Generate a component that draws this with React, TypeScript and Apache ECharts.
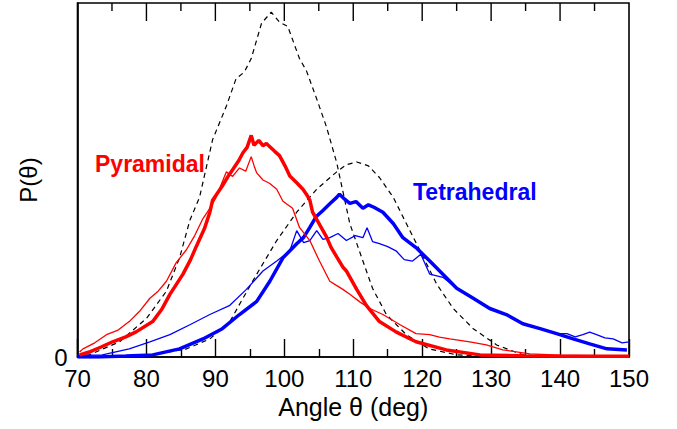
import React, { useEffect, useRef } from "react";
import * as echarts from "echarts";

// x: angle (deg), y: P(theta) in arbitrary units (0..100 = frame height)
const pyrIdealX = [70, 71.7, 76.1, 80, 82.9, 84.8, 86.3, 87.7, 89.6, 91.6, 93.0, 94.2, 95.2, 96.7, 98.1, 99.3, 100.5, 102.2, 103.2, 104.7, 106.1, 107.6, 109.5, 111.4, 112.8, 114.8, 117.7, 121, 125, 130, 150];
const pyrIdealY = [0, 0.6, 4.3, 10.9, 18.6, 28, 38.6, 45.1, 61.4, 70.9, 78.6, 80.5, 84.3, 94.3, 97.4, 94.6, 93.4, 84.3, 80.9, 72.9, 65.1, 54.9, 37.7, 27.1, 19.4, 12, 6.3, 2.3, 0.6, 0.2, 0];

const tetIdealX = [70, 80.9, 85.8, 89.2, 92.1, 94, 96, 98.9, 101.8, 104.7, 107.6, 109, 110.5, 112.2, 113.8, 115.8, 117.7, 119.7, 122.1, 124.5, 127.4, 130.8, 134.6, 140, 150];
const tetIdealY = [0, 0.6, 2.3, 5.1, 10, 16.6, 23.4, 32.9, 40.9, 47.4, 52.3, 54.3, 55.1, 54.0, 50.7, 45.1, 37.7, 30, 20.6, 13.7, 8, 3.4, 0.6, 0, 0];

const pyrThickX = [70.3, 71.7, 73.5, 75.1, 77, 78.5, 80.9, 82.2, 83.4, 85.3, 86.4, 87.2, 88.4, 89.2, 89.6, 91, 91.8, 92.5, 93.4, 94, 94.6, 95.2, 95.6, 96.3, 96.9, 97.4, 97.9, 98.6, 99.3, 100.1, 100.8, 101.8, 102.7, 103.2, 103.7, 104.1, 105.2, 106.1, 106.8, 107.6, 108.5, 109, 110.5, 111.9, 113.8, 116.2, 119.1, 123.5, 128.4, 135, 142, 150];
const pyrThickY = [0.6, 1.4, 2.9, 4.3, 5.7, 7.1, 10, 13.4, 17.7, 23.4, 27.5, 31.1, 36.2, 40.9, 44.3, 48.3, 50.9, 52.9, 55.5, 57.7, 59.2, 62.6, 59.8, 61.2, 59.7, 60.3, 59.4, 58.1, 56.9, 54.0, 51.1, 49.2, 47.4, 46.0, 44.3, 40.9, 37.1, 34, 30.9, 28.3, 25.4, 24.3, 19.1, 14.6, 10, 7.1, 4.3, 2, 0.6, 0.3, 0.2, 0.2];

const pyrThinX = [70.3, 70.8, 72.5, 74.2, 75.8, 77.5, 79, 80.5, 81.7, 82.9, 84.3, 85.8, 87, 88.2, 89.2, 90.1, 91.6, 92.5, 93.5, 94.4, 95.2, 95.7, 96.0, 96.9, 97.9, 98.9, 99.8, 101.2, 102.2, 103.7, 105.1, 106.6, 107.5, 108.5, 109.5, 111, 112.4, 114.3, 116.8, 119.1, 121.1, 122.5, 124, 126.9, 129.3, 131.7, 135.6, 140, 145, 150];
const pyrThinY = [1.4, 2.3, 4.0, 6.3, 7.5, 10, 12.9, 16.6, 18.6, 21.4, 26.6, 30.3, 34.3, 39.1, 42, 45.1, 52.3, 51, 53.4, 52.5, 56.6, 53.5, 52, 50, 49, 47.4, 44, 42, 36.6, 32.9, 27.1, 21.4, 20.3, 19.1, 17.7, 15.5, 13.7, 12, 9.1, 6.6, 6.3, 5.6, 5.1, 4.3, 3.4, 2, 0.9, 0.5, 0.4, 0.3];

const tetThickX = [70, 73, 77, 80.9, 84.8, 88.2, 91, 93.5, 96, 97.9, 99.8, 101.8, 102.8, 103.7, 104.6, 105.6, 106.6, 107.6, 108, 108.8, 109.5, 110.4, 111.4, 112.2, 113, 114.3, 115.8, 117.2, 119.1, 121.1, 123, 125, 127.4, 129.8, 132.2, 134.6, 137.1, 139.5, 141.9, 144.3, 146.8, 149.7];
const tetThickY = [0, 0, 0.3, 0.6, 2.3, 5.1, 8, 12, 15.7, 21.4, 28, 32, 33.8, 36.6, 39.6, 41.4, 43.3, 45.1, 46, 44.5, 43.4, 43.9, 42, 43.0, 42.3, 40.9, 37.7, 33.7, 30.9, 27.1, 23.4, 19.4, 16.6, 13.7, 12, 9.4, 8, 6.6, 5.1, 3.7, 2.3, 2];

const tetThinX = [70, 73.6, 77.5, 80.5, 83.4, 86.3, 89.2, 92.1, 94.5, 96.9, 98.9, 100.8, 101.8, 102.8, 103.7, 104.7, 105.6, 106.6, 107.8, 109, 110.3, 111.4, 112, 112.8, 113.8, 115, 116.2, 117.4, 118.6, 119.8, 121.1, 123, 125, 127.4, 129.8, 132.2, 134.6, 137.1, 139.5, 141, 142.2, 143.3, 144.3, 145.3, 146.5, 147.7, 149, 150];
const tetThinY = [0.5, 0.6, 2.3, 4.3, 6.3, 9.1, 12, 14.6, 19.1, 24.3, 27.1, 30, 35.7, 32.3, 32.9, 35.7, 33.2, 33.7, 34.9, 32.9, 34.3, 33.7, 36.5, 32.6, 32, 31.2, 30, 27.5, 27.1, 29.0, 23.4, 22.5, 19.4, 16.6, 13.7, 12, 9.4, 8, 6.6, 6.6, 5.7, 6.3, 7.0, 6.3, 5.4, 5.1, 4, 4.3];

const xTicks = [70, 80, 90, 100, 110, 120, 130, 140, 150];
const xMinorTicks = [75, 85, 95, 105, 115, 125, 135, 145];

const zip = (xs: number[], ys: number[]) => xs.map((x, i) => [x, ys[i]]);

const Y_MAX = 100;

export default function App() {
  const ref = useRef<HTMLDivElement>(null);
  useEffect(() => {
    if (!ref.current) return;
    const chart = echarts.init(ref.current, null, { renderer: "svg" });
    const font = "'Liberation Sans', Arial, Helvetica, sans-serif";
    chart.setOption({
      animation: false,
      backgroundColor: "#fff",
      textStyle: { fontFamily: font },
      grid: {
        left: 77.5, right: 48, top: 3, bottom: 72, containLabel: false,
        show: true, borderColor: "#000", borderWidth: 1.6, backgroundColor: "transparent",
      },
      xAxis: {
        type: "value",
        position: "bottom",
        min: xTicks[0],
        max: xTicks[xTicks.length - 1],
        interval: 10,
        axisLine: { show: true, onZero: false, lineStyle: { color: "#000", width: 1.6 } },
        axisTick: { show: true, inside: true, length: 18, lineStyle: { color: "#000", width: 1.4 } },
        minorTick: { show: true, splitNumber: 2, length: 8, lineStyle: { color: "#000", width: 1.4 } },
        splitLine: { show: false },
        name: "Angle θ (deg)",
        nameLocation: "middle",
        nameGap: 36,
        nameTextStyle: { fontSize: 25, color: "#000", fontFamily: font },
        axisLabel: { show: true, fontSize: 24, color: "#000", margin: 9, fontFamily: font },
      },
      yAxis: {
        type: "value",
        min: 0,
        max: Y_MAX,
        interval: Y_MAX,
        position: "left",
        name: "P(θ)",
        nameLocation: "middle",
        nameRotate: 90,
        nameGap: 37,
        nameTextStyle: { fontSize: 24, color: "#000", fontFamily: font },
        axisLine: { show: true, onZero: false, lineStyle: { color: "#000", width: 1.6 } },
        axisTick: { show: false },
        splitLine: { show: false },
        axisLabel: {
          fontSize: 24,
          color: "#000",
          margin: 10,
          fontFamily: font,
          formatter: (v: number) => (v === 0 ? "0" : ""),
        },
      },
      series: [
        {
          type: "line",
          data: zip(pyrIdealX, pyrIdealY),
          showSymbol: false,
          lineStyle: { color: "#000", width: 1.2, type: [5, 4] },
          z: 2,
        },
        {
          type: "line",
          data: zip(tetIdealX, tetIdealY),
          showSymbol: false,
          lineStyle: { color: "#000", width: 1.2, type: [5, 4] },
          z: 2,
        },
        {
          type: "line",
          data: zip(tetThinX, tetThinY),
          showSymbol: false,
          lineStyle: { color: "#0000ff", width: 1.3 },
          z: 3,
        },
        {
          type: "line",
          data: zip(tetThickX, tetThickY),
          showSymbol: false,
          lineStyle: { color: "#0000ff", width: 3.5 },
          z: 4,
        },
        {
          type: "line",
          data: zip(pyrThinX, pyrThinY),
          showSymbol: false,
          lineStyle: { color: "#ff0000", width: 1.3 },
          z: 5,
        },
        {
          type: "line",
          data: zip(pyrThickX, pyrThickY),
          showSymbol: false,
          lineStyle: { color: "#ff0000", width: 3.5 },
          z: 6,
        },
      ],
    });

    // top-frame ticks (inside, pointing down), positioned through the chart's own x scale
    const tickLines: any[] = [];
    const addTick = (x: number, len: number) => {
      const p = chart.convertToPixel({ gridIndex: 0 }, [x, Y_MAX]) as number[];
      if (!p || !isFinite(p[0]) || !isFinite(p[1])) return;
      tickLines.push({
        type: "line",
        shape: { x1: p[0], y1: p[1], x2: p[0], y2: p[1] + len },
        style: { stroke: "#000", lineWidth: 1.4 },
        z: 20,
        silent: true,
      });
    };
    xTicks.slice(1, -1).forEach((x) => addTick(x, 18));
    xMinorTicks.forEach((x) => addTick(x, 8));

    chart.setOption({
      graphic: [
        ...tickLines,
        {
          type: "text",
          left: 95,
          top: 152,
          style: { text: "Pyramidal", fill: "#ff0000", fontSize: 23, fontWeight: "bold", fontFamily: font },
          z: 10,
        },
        {
          type: "text",
          left: 413,
          top: 180,
          style: { text: "Tetrahedral", fill: "#0000ff", fontSize: 23, fontWeight: "bold", fontFamily: font },
          z: 10,
        },
      ],
    });
    return () => chart.dispose();
  }, []);
  return <div ref={ref} style={{ position: "absolute", left: 0, top: 0, width: 677, height: 429 }} />;
}
